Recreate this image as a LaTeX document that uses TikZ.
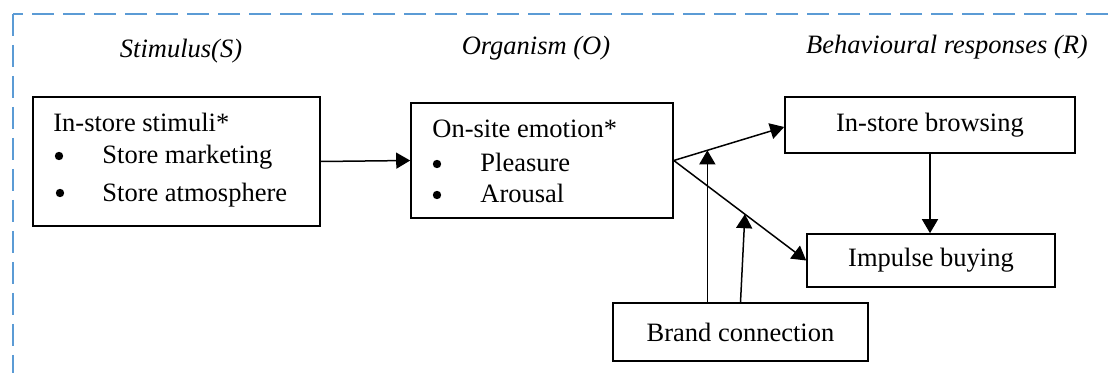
\documentclass[tikz,border=0pt]{standalone}
\usepackage{fontspec}
\setmainfont{Liberation Serif}
\usetikzlibrary{arrows.meta}
\definecolor{dashblue}{HTML}{5B9BD5}
\begin{document}
\begin{tikzpicture}[x=0.5pt,y=-0.5pt,
  every node/.style={font=\fontsize{13.25}{16}\selectfont},
  box/.style={draw, line width=0.8pt, inner sep=0pt},
  txt/.style={anchor=base west, inner sep=0pt},
  bul/.style={circle, fill, inner sep=0pt, minimum size=4.2pt},
  ital/.style={inner sep=0pt, font=\fontsize{13.25}{16}\selectfont\itshape},
  arr/.style={line width=0.75pt, -{Triangle[length=7pt,width=8pt]}}]
\useasboundingbox (0,0) rectangle (1114,373);
\clip (0,0) rectangle (1114,373);
\draw[dashblue, line width=1.3pt, dash pattern=on 11pt off 4.5pt] (13,14) rectangle (1130,390);
% headings
\node[ital] (hs) at (181,51) {Stimulus(S)};
\node[ital] (ho) at (536,48) {Organism (O)};
\node[ital] (hr) at (947,47) {Behavioural responses (R)};
% box 1
\node[box, minimum width=143.5pt, minimum height=64.5pt] (stim) at (176.5,161.5) {};
\node[txt] (s0) at (53,132) {In-store stimuli*};
\node[bul] (s1b) at (59,156) {};
\node[txt] (s1) at (102,164) {Store marketing};
\node[bul] (s2b) at (60,193) {};
\node[txt] (s2) at (102,202) {Store atmosphere};
% box 2
\node[box, minimum width=131pt, minimum height=57.5pt] (emo) at (542,160.5) {};
\node[txt] (e0) at (432,138) {On-site emotion*};
\node[bul] (e1b) at (437,164) {};
\node[txt] (e1) at (480,172) {Pleasure};
\node[bul] (e2b) at (437,195) {};
\node[txt] (e2) at (480,203) {Arousal};
% response boxes
\node[box, minimum width=145pt, minimum height=28pt] (brw) at (930,125) {In-store browsing};
\node[box, minimum width=124pt, minimum height=26.5pt] (imp) at (931,260.5) {Impulse buying};
\node[box, minimum width=127.5pt, minimum height=29pt] (brand) at (740.5,332) {Brand connection};
% connectors
\draw[arr] (stim.east) -- (emo.west);
\draw[arr] (emo.east) -- coordinate[pos=0.304] (m1) ([yshift=-1pt]brw.west);
\draw[arr] (emo.east) -- coordinate[pos=0.537] (m2) (imp.west);
\draw[arr] (brw.south) -- (brw.south |- imp.north);
\draw[arr] (m1 |- brand.north) -- (m1);
\draw[arr] (brand.north) -- (m2);
\end{tikzpicture}
\end{document}
